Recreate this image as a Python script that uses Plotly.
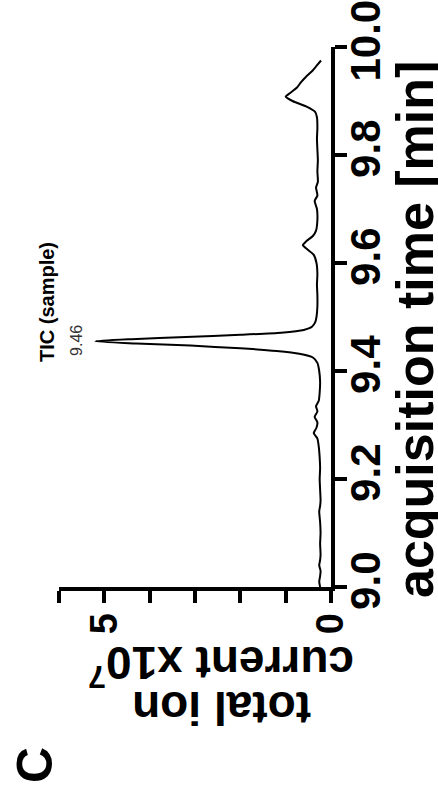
import plotly.graph_objects as go

# ---- data (time in min, TIC in units of 1e7) ----
time_min = [
    9.000, 9.010, 9.020, 9.030, 9.040, 9.050, 9.060, 9.080, 9.100, 9.120,
    9.140, 9.150, 9.160, 9.180, 9.200, 9.220, 9.240, 9.260, 9.275, 9.285,
    9.295, 9.305, 9.315, 9.325, 9.335, 9.345, 9.360, 9.380, 9.400, 9.415,
    9.425, 9.432, 9.437, 9.442, 9.447, 9.451, 9.455, 9.459, 9.463, 9.467,
    9.471, 9.476, 9.482, 9.490, 9.500, 9.520, 9.540, 9.560, 9.580, 9.600,
    9.615, 9.625, 9.633, 9.640, 9.650, 9.660, 9.680, 9.700, 9.715, 9.725,
    9.740, 9.750, 9.770, 9.790, 9.810, 9.830, 9.850, 9.870, 9.880, 9.890,
    9.900, 9.908, 9.915, 9.925, 9.935, 9.945, 9.955, 9.965, 9.975,
]
tic_e7 = [
    0.24, 0.26, 0.24, 0.23, 0.26, 0.24, 0.23, 0.24, 0.23, 0.24,
    0.26, 0.24, 0.23, 0.24, 0.25, 0.24, 0.25, 0.27, 0.30, 0.38,
    0.32, 0.30, 0.36, 0.30, 0.33, 0.27, 0.25, 0.24, 0.26, 0.30,
    0.40, 0.70, 1.20, 2.00, 3.10, 4.30, 5.20, 4.40, 3.20, 2.00,
    1.10, 0.60, 0.42, 0.35, 0.32, 0.30, 0.30, 0.31, 0.30, 0.32,
    0.38, 0.52, 0.62, 0.55, 0.40, 0.33, 0.30, 0.31, 0.36, 0.30,
    0.33, 0.29, 0.30, 0.29, 0.30, 0.31, 0.30, 0.31, 0.35, 0.55,
    0.85, 1.00, 0.90, 0.75, 0.66, 0.55, 0.42, 0.32, 0.22,
]
time_ticks = [9.0, 9.2, 9.4, 9.6, 9.8, 10.0]
time_ticklabels = ["9.0", "9.2", "9.4", "9.6", "9.8", "10.0"]
tic_ticks = [0, 1, 2, 3, 4, 5, 6]
tic_ticklabels = ["0", "", "", "", "", "5", ""]
peak_time = 9.456
peak_label = "9.46"

W, H = 438, 798
L, R, T, B = 59, 107, 47, 211
PW, PH = W - L - R, H - T - B


def paper_x(px):
    return (px - L) / PW


def paper_y(py):
    return (H - B - py) / PH


FONT = "Liberation Sans, Arial, Helvetica, sans-serif"

fig = go.Figure()
fig.add_trace(go.Scatter(
    x=tic_e7, y=time_min, mode="lines",
    line=dict(color="black", width=2, shape="spline", smoothing=0.6),
    hoverinfo="skip", showlegend=False,
))

fig.update_layout(
    width=W, height=H,
    margin=dict(l=L, r=R, t=T, b=B, pad=0),
    paper_bgcolor="white", plot_bgcolor="white",
    showlegend=False,
    xaxis=dict(
        range=[6, 0], side="bottom",
        tickmode="array", tickvals=tic_ticks, ticktext=tic_ticklabels,
        ticks="outside", ticklen=12, tickwidth=4, tickcolor="black",
        showline=True, linewidth=4, linecolor="black",
        showgrid=False, zeroline=False, automargin=False,
        tickangle=-90, ticklabeloverflow="allow", ticklabelstandoff=-5,
        tickfont=dict(family=FONT, size=38, color="black", weight="bold"),
    ),
    yaxis=dict(
        range=[9.0, 10.0], side="right",
        tickmode="array", tickvals=time_ticks, ticktext=time_ticklabels,
        ticks="outside", ticklen=12, tickwidth=4, tickcolor="black",
        showline=True, linewidth=4, linecolor="black",
        showgrid=False, zeroline=False, automargin=False,
        tickangle=-90, ticklabeloverflow="allow", ticklabelstandoff=-17,
        tickfont=dict(family=FONT, size=42, color="black", weight="bold"),
    ),
)

annos = [
    dict(text="acquisition time [min]", x=paper_x(415), y=paper_y(330),
         textangle=-90, font=dict(family=FONT, size=52, color="black", weight="bold")),
    dict(text="current x10<sup>7</sup>", x=paper_x(221), y=paper_y(666),
         textangle=180, font=dict(family=FONT, size=46, color="black", weight="bold")),
    dict(text="total ion", x=paper_x(222), y=paper_y(708),
         textangle=180, font=dict(family=FONT, size=46, color="black", weight="bold")),
    dict(text="C", x=paper_x(35), y=paper_y(765),
         textangle=-90, font=dict(family=FONT, size=50, color="black", weight="bold")),
    dict(text="TIC (sample)", x=paper_x(47), y=paper_y(302),
         textangle=-90, font=dict(family=FONT, size=20, color="black", weight="bold")),
]
for a in annos:
    fig.add_annotation(xref="paper", yref="paper", showarrow=False,
                       xanchor="center", yanchor="middle", **a)

fig.add_annotation(text=peak_label, x=5.6, y=peak_time, xref="x", yref="y",
                   showarrow=False, textangle=-90, xanchor="center", yanchor="middle",
                   font=dict(family=FONT, size=16, color="#333333"))

fig.write_html(
    "out.html",
    config={"displayModeBar": False},
    post_script="document.body.style.margin='0';document.body.style.overflow='hidden';",
)
